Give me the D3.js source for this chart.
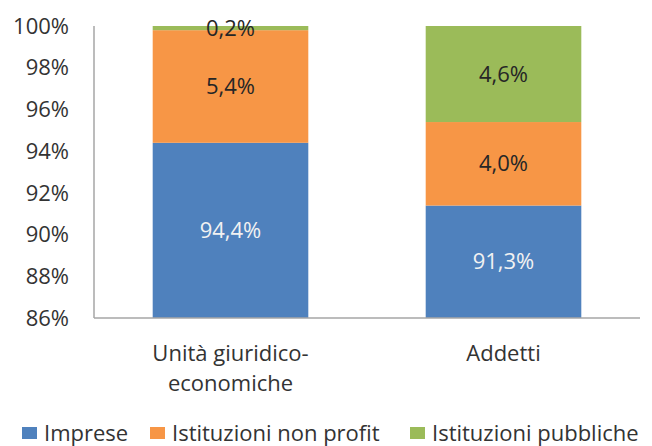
<!DOCTYPE html>
<html>
<head>
  <meta charset="utf-8">
  <title>Imprese, istituzioni non profit e pubbliche</title>
  <style>
    body {
      margin: 0;
      padding: 0;
      background: white;
      font-family: "Open Sans", sans-serif;
    }
    .tick-label, .cat-label, .legend text {
      fill: #333333;
      font-size: 22px;
    }
    .data-label {
      font-size: 22px;
      text-anchor: middle;
    }
    .axis-line {
      stroke: #a6a6a6;
      stroke-width: 1.5;
    }
  </style>
</head>
<body>
  <div id="chart"></div>

  <script src="https://d3js.org/d3.v7.min.js"></script>
  <script>

  // ####### DATA #######
  var categories = ["Unità giuridico-economiche", "Addetti"]
  var categoryLines = [["Unità giuridico-", "economiche"], ["Addetti"]]
  var seriesNames = ["Imprese", "Istituzioni non profit", "Istituzioni pubbliche"]
  var imprese = [94.4, 91.3]
  var nonProfit = [5.4, 4.0]
  var pubbliche = [0.2, 4.6]
  var yTicks = [86, 88, 90, 92, 94, 96, 98, 100]
  var colors = ["#4f81bd", "#f79646", "#9bbb59"]
  var labelColors = ["#f2f2f2", "#262626", "#262626"]

  // ####### SIZE #######
  var width = 652,
      height = 446,
      margin = { top: 26, right: 12, bottom: 128, left: 94 }

  var svg = d3.select("#chart")
      .append("svg")
      .attr("width", width)
      .attr("height", height)

  // ####### SCALES #######
  var x = d3.scaleBand()
      .domain(categories)
      .range([margin.left, width - margin.right])
      .paddingInner(0.43)
      .paddingOuter(0.215)

  var y = d3.scaleLinear()
      .domain([86, 100])
      .range([height - margin.bottom, margin.top])

  // ####### STACK (100% STACKED, NORMALIZED PER COLUMN) #######
  var rows = categories.map(function (c, i) {
    var total = imprese[i] + nonProfit[i] + pubbliche[i]
    return {
      cat: c,
      raw: [imprese[i], nonProfit[i], pubbliche[i]],
      s0: imprese[i] / total * 100,
      s1: nonProfit[i] / total * 100,
      s2: pubbliche[i] / total * 100
    }
  })

  var stack = d3.stack().keys(["s0", "s1", "s2"])
  var layers = stack(rows)

  // ####### CLIP TO PLOT AREA #######
  svg.append("clipPath")
      .attr("id", "plot-clip")
      .append("rect")
      .attr("x", margin.left)
      .attr("y", y(100))
      .attr("width", width - margin.left - margin.right)
      .attr("height", y(86) - y(100))

  var bars = svg.append("g").attr("clip-path", "url(#plot-clip)")

  layers.forEach(function (layer, k) {
    bars.selectAll(".bar-" + k)
      .data(layer)
      .enter().append("rect")
      .attr("class", "bar-" + k)
      .attr("x", function (d) { return x(d.data.cat) })
      .attr("width", x.bandwidth())
      .attr("y", function (d) { return y(d[1]) })
      .attr("height", function (d) { return y(d[0]) - y(d[1]) })
      .attr("fill", colors[k])
  })

  // ####### AXES LINES #######
  svg.append("line")
      .attr("class", "axis-line")
      .attr("x1", margin.left).attr("x2", margin.left)
      .attr("y1", y(100)).attr("y2", y(86))

  svg.append("line")
      .attr("class", "axis-line")
      .attr("x1", margin.left).attr("x2", width - margin.right)
      .attr("y1", y(86)).attr("y2", y(86))

  // ####### Y TICK LABELS #######
  svg.selectAll(".tick-label")
      .data(yTicks)
      .enter().append("text")
      .attr("class", "tick-label")
      .attr("x", margin.left - 25)
      .attr("y", function (d) { return y(d) })
      .attr("dy", "0.35em")
      .attr("text-anchor", "end")
      .text(function (d) { return d + "%" })

  // ####### CATEGORY LABELS #######
  var cats = svg.selectAll(".cat-label")
      .data(categories)
      .enter().append("text")
      .attr("class", "cat-label")
      .attr("text-anchor", "middle")

  cats.selectAll("tspan")
      .data(function (d, i) { return categoryLines[i] })
      .enter().append("tspan")
      .attr("x", function () { return x(d3.select(this.parentNode).datum()) + x.bandwidth() / 2 })
      .attr("y", function (d, j) { return 353 + j * 30 })
      .attr("dy", "0.35em")
      .text(function (d) { return d })

  // ####### DATA LABELS (CENTERED IN VISIBLE PART OF SEGMENT) #######
  layers.forEach(function (layer, k) {
    svg.selectAll(".data-label-" + k)
      .data(layer)
      .enter().append("text")
      .attr("class", "data-label data-label-" + k)
      .attr("x", function (d) { return x(d.data.cat) + x.bandwidth() / 2 })
      .attr("y", function (d) { return (y(Math.max(d[0], 86)) + y(d[1])) / 2 })
      .attr("dy", "0.35em")
      .attr("fill", labelColors[k])
      .text(function (d) { return d3.format(".1f")(d.data.raw[k]).replace(".", ",") + "%" })
  })

  // ####### LEGEND #######
  var legendX = [22, 150, 410]
  var legend = svg.append("g")
      .attr("class", "legend")
      .selectAll("g")
      .data(seriesNames)
      .enter().append("g")
      .attr("transform", function (d, i) { return "translate(" + legendX[i] + ",433)" })

  legend.append("rect")
      .attr("x", 0)
      .attr("y", -6)
      .attr("width", 15)
      .attr("height", 12)
      .attr("fill", function (d, i) { return colors[i] })

  legend.append("text")
      .attr("x", 22)
      .attr("dy", "0.35em")
      .text(function (d) { return d })

  </script>
</body>
</html>
